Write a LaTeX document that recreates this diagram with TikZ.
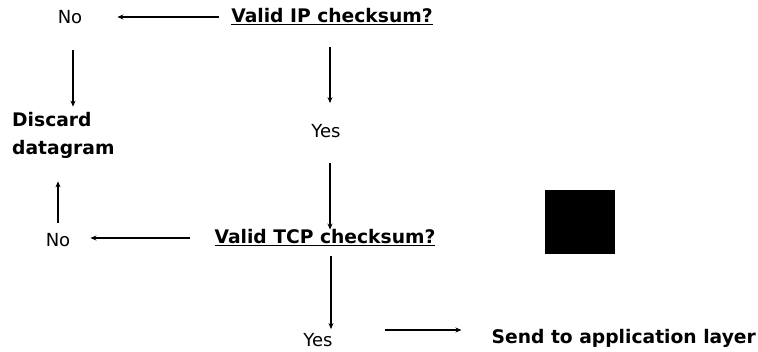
\documentclass[tikz,border=0pt]{standalone}
\usepackage{fontspec}
\setmainfont{DejaVu Sans}
\usetikzlibrary{arrows.meta}
\begin{document}
\begin{tikzpicture}[x=1pt,y=-1pt,
  lbl/.style={inner sep=0pt,font=\fontsize{18}{22}\selectfont},
  blbl/.style={inner sep=0pt,font=\fontsize{18.7}{28}\selectfont\bfseries},
  arr/.style={draw,line width=1.2pt,-{Stealth[length=6pt,width=5pt]}}]
\useasboundingbox (0,0) rectangle (758,352);
\node[lbl] (no1) at (70,17) {No};
\node[blbl] (ip) at (332,17) {\underline{Valid IP checksum?}};
\node[blbl,align=left,anchor=west] (discard) at (12,135) {Discard\\datagram};
\node[lbl] (yes1) at (326,131) {Yes};
\node[blbl] (tcp) at (325,238) {\underline{Valid TCP checksum?}};
\node[lbl] (no2) at (58,240) {No};
\node[lbl] (yes2) at (318,340) {Yes};
\node[blbl,anchor=east] (send) at (756,338) {Send to application layer};
\fill (545,190) rectangle (615,254);
% IP -> No
\coordinate (a1) at ([xshift=-12pt]ip.west);
\coordinate (a2) at (a1 -| no1.east);
\draw[arr] (a1) -- ([xshift=35pt]a2);
% No -> Discard
\coordinate (b1) at ([xshift=3pt,yshift=-26pt]no1.south);
\coordinate (b2) at (b1 |- discard.north);
\draw[arr] (b1) -- ([yshift=5pt]b2);
% IP -> Yes
\coordinate (c1) at ([xshift=-2pt,yshift=-22pt]ip.south);
\coordinate (c2) at (c1 |- yes1.north);
\draw[arr] (c1) -- ([yshift=21pt]c2);
% Yes -> TCP
\coordinate (d1) at ([xshift=4pt,yshift=-25pt]yes1.south);
\coordinate (d2) at (d1 |- tcp.north);
\draw[arr] (d1) -- (d2);
% TCP -> No
\coordinate (e1) at ([xshift=-24pt]tcp.west);
\coordinate (e2) at (e1 -| no2.east);
\draw[arr] (e1) -- ([xshift=20pt]e2);
% No -> Discard
\coordinate (f1) at ([yshift=10pt]no2.north);
\coordinate (f2) at (f1 |- discard.south);
\draw[arr] (f1) -- ([yshift=-23pt]f2);
% TCP -> Yes
\coordinate (g1) at ([xshift=6pt,yshift=-10pt]tcp.south);
\coordinate (g2) at (g1 |- yes2.north);
\draw[arr] (g1) -- ([yshift=4pt]g2);
% Yes -> Send
\coordinate (h1) at ([xshift=52pt,yshift=10pt]yes2.east);
\coordinate (h2) at (h1 -| send.west);
\draw[arr] (h1) -- ([xshift=-30pt]h2);
\end{tikzpicture}
\end{document}
